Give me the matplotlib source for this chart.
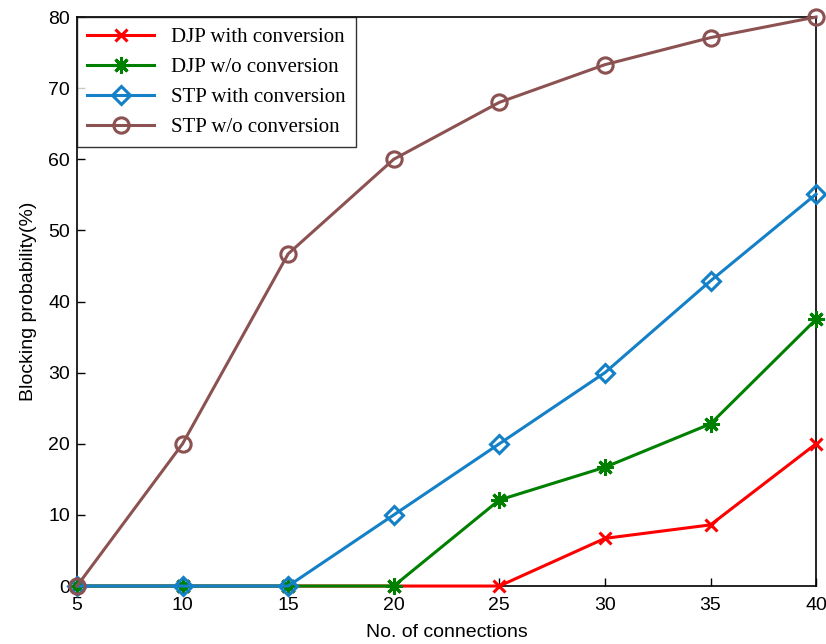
import matplotlib
matplotlib.use("Agg")
import matplotlib.pyplot as plt

connections = [5, 10, 15, 20, 25, 30, 35, 40]
djp_with = [0, 0, 0, 0, 0, 6.7, 8.6, 20.0]
djp_wo = [0, 0, 0, 0, 12.1, 16.7, 22.8, 37.5]
stp_with = [0, 0, 0, 10.0, 20.0, 30.0, 42.9, 55.1]
stp_wo = [0, 20.0, 46.7, 60.0, 68.0, 73.3, 77.1, 80.0]
labels = ["DJP with conversion", "DJP w/o conversion", "STP with conversion", "STP w/o conversion"]
xticks = [5, 10, 15, 20, 25, 30, 35, 40]
yticks = [0, 10, 20, 30, 40, 50, 60, 70, 80]

plt.rcParams['font.family'] = ['Liberation Sans', 'DejaVu Sans']
fig = plt.figure(figsize=(8.26, 6.44), dpi=100)
ax = fig.add_axes([0.0932, 0.090, 0.8948, 0.8836])

red = (1.0, 0.0, 0.0)
green = (0.0, 0.5, 0.0)
blue = (0.08, 0.50, 0.78)
brown = (0.55, 0.32, 0.32)

ax.plot(connections, djp_with, color=red, lw=2.2, marker='x', ms=9, mew=2.2, label=labels[0], clip_on=False, zorder=3)
ax.plot(connections, djp_wo, color=green, lw=2.2, marker=(8, 2, 0), ms=12, mew=2.2, label=labels[1], clip_on=False, zorder=3)
ax.plot(connections, stp_with, color=blue, lw=2.2, marker='D', ms=9, mew=2.2, mfc='none', label=labels[2], clip_on=False, zorder=3)
ax.plot(connections, stp_wo, color=brown, lw=2.2, marker='o', ms=11, mew=2.2, mfc='none', label=labels[3], clip_on=False, zorder=3)

ax.set_xlim(5, 40)
ax.set_ylim(0, 80)
ax.set_xticks(xticks)
ax.set_yticks(yticks)
ax.tick_params(direction='in', labelsize=14, length=6, width=1)
ax.tick_params(axis='x', pad=8)
ax.tick_params(axis='y', pad=5)
for s in ax.spines.values():
    s.set_linewidth(1.2)
ax.set_xlabel("No. of connections", fontsize=14, labelpad=7)
ax.set_ylabel("Blocking probability(%)", fontsize=14, labelpad=8)

leg = ax.legend(loc='upper left', prop={'family': 'Liberation Serif', 'size': 15},
                frameon=True, fancybox=False, edgecolor='black', borderaxespad=0,
                handlelength=3.2, labelspacing=0.5, borderpad=0.5)
leg.get_frame().set_linewidth(1.0)
leg.set_zorder(5)

fig.savefig("out.png", dpi=100)
